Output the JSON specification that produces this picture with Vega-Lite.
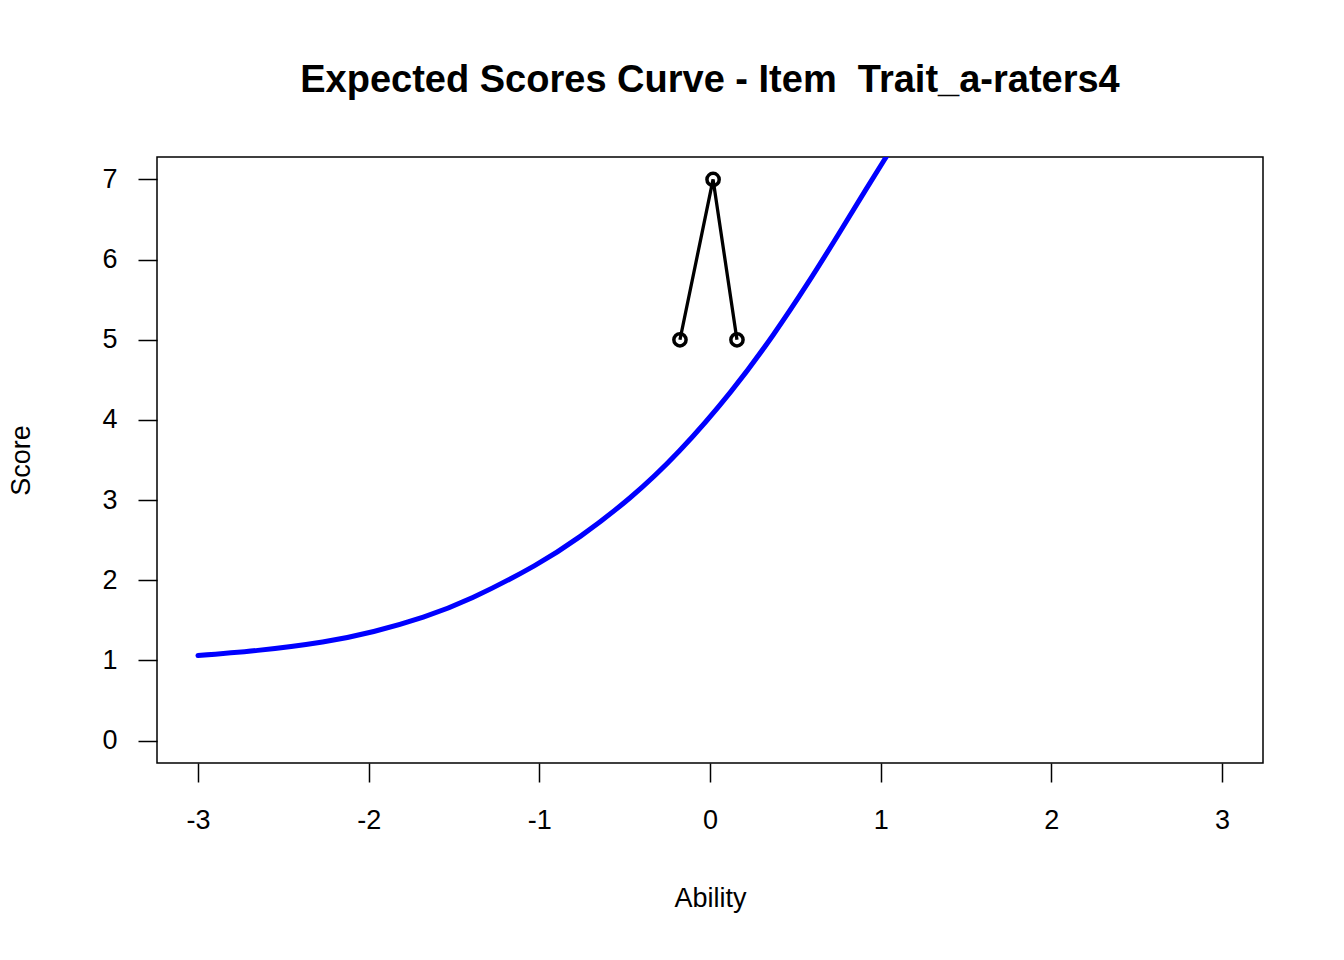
{
  "$schema": "https://vega.github.io/schema/vega-lite/v6.json",
  "width": 1106,
  "height": 606,
  "autosize": {"type": "none"},
  "padding": {"left": 157, "top": 157, "right": 81, "bottom": 197},
  "background": "white",
  "config": {
    "font": "Liberation Sans",
    "view": {"stroke": "black", "strokeWidth": 1.5}
  },
  "title": {
    "text": "Expected Scores Curve - Item \u00a0Trait_a-raters4",
    "fontSize": 38,
    "fontWeight": "bold",
    "color": "black",
    "anchor": "middle",
    "baseline": "alphabetic",
    "offset": 27
  },
  "datasets": {
    "curve": [
      {"ability": -3.0, "score": 1.06},
      {"ability": -2.65, "score": 1.125},
      {"ability": -2.27, "score": 1.23},
      {"ability": -1.97, "score": 1.36},
      {"ability": -1.68, "score": 1.54},
      {"ability": -1.39, "score": 1.784},
      {"ability": -1.03, "score": 2.18},
      {"ability": -0.76, "score": 2.547},
      {"ability": -0.47, "score": 3.026},
      {"ability": -0.18, "score": 3.612},
      {"ability": 0.12, "score": 4.347},
      {"ability": 0.37, "score": 5.06},
      {"ability": 0.57, "score": 5.696},
      {"ability": 0.76, "score": 6.342},
      {"ability": 1.02, "score": 7.239},
      {"ability": 1.25, "score": 7.975},
      {"ability": 1.5, "score": 8.675}
    ],
    "obs": [
      {"ability": -0.176, "score": 5},
      {"ability": 0.018, "score": 7},
      {"ability": 0.158, "score": 5}
    ]
  },
  "layer": [
    {
      "data": {"name": "curve"},
      "mark": {"type": "line", "color": "#0000FF", "strokeWidth": 5, "clip": true, "interpolate": "natural", "strokeCap": "round"},
      "encoding": {
        "x": {
          "field": "ability", "type": "quantitative",
          "scale": {"domain": [-3.24, 3.24], "nice": false, "zero": false},
          "axis": {
            "title": "Ability", "values": [-3, -2, -1, 0, 1, 2, 3],
            "labelExpr": "'' + datum.value",
            "grid": false, "domain": false, "tickSize": 19, "tickWidth": 1.5, "tickColor": "black",
            "labelFontSize": 27, "labelColor": "black", "labelPadding": 25, "labelFlush": false,
            "titleFontSize": 27, "titleFontWeight": "normal", "titleColor": "black", "titlePadding": 52
          }
        },
        "y": {
          "field": "score", "type": "quantitative",
          "scale": {"domain": [-0.28, 7.28], "nice": false, "zero": false},
          "axis": {
            "title": "Score", "values": [0, 1, 2, 3, 4, 5, 6, 7],
            "labelExpr": "'' + datum.value",
            "grid": false, "domain": false, "tickSize": 19, "tickWidth": 1.5, "tickColor": "black",
            "labelFontSize": 27, "labelColor": "black", "labelPadding": 21, "labelFlush": false,
            "titleFontSize": 27, "titleFontWeight": "normal", "titleColor": "black", "titlePadding": 66
          }
        }
      }
    },
    {
      "data": {"name": "obs"},
      "mark": {"type": "line", "color": "black", "strokeWidth": 3.3, "clip": true},
      "encoding": {
        "x": {"field": "ability", "type": "quantitative"},
        "y": {"field": "score", "type": "quantitative"}
      }
    },
    {
      "data": {"name": "obs"},
      "mark": {"type": "point", "shape": "circle", "filled": false, "color": "black", "strokeWidth": 3.5, "size": 150, "opacity": 1, "clip": true},
      "encoding": {
        "x": {"field": "ability", "type": "quantitative"},
        "y": {"field": "score", "type": "quantitative"}
      }
    }
  ]
}
